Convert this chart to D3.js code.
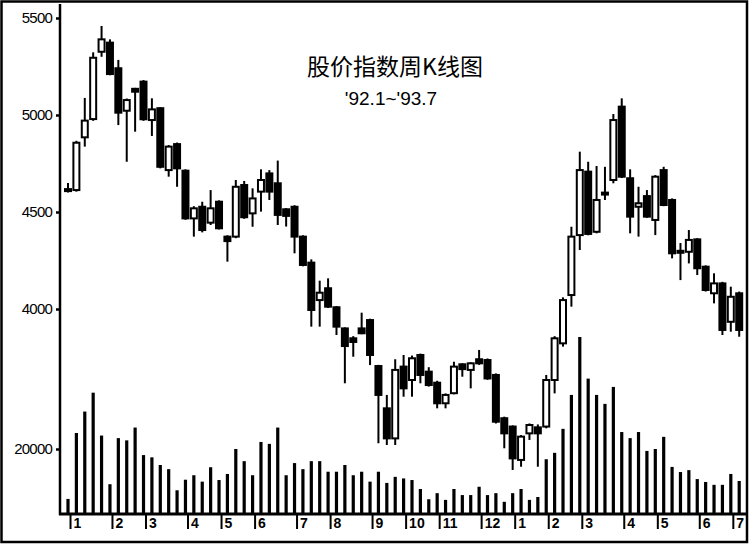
<!DOCTYPE html>
<html><head><meta charset="utf-8">
<script src="https://cdn.jsdelivr.net/npm/d3@7"></script>
<style>body{margin:0;background:#fff}svg{display:block}</style>
</head><body><svg width="749" height="544"></svg>
<script>
// Weekly index K-line, '92.1 ~ '93.7 (81 weeks)
const opens  = [4610,4613,4885,4979,5326,5373,5241,5022,5135,5172,4974,5035,4716,4850,4713,4467,4527,4445,4553,4373,
                4373,4639,4493,4605,4699,4648,4514,4527,4373,4239,4046,4107,4009,3900,3849,3900,3943,3706,3488,3333,
                3703,3634,3763,3677,3620,3514,3566,3715,3686,3741,3737,3660,3437,3394,3222,3359,3390,3394,3634,3823,
                4072,4381,4708,4398,4590,4665,5043,4674,4527,4582,4459,4716,4562,4290,4295,4359,4218,4081,4132,3934,4081];
const highs  = [4650,4867,5088,5323,5459,5390,5284,5085,5140,5180,5086,5040,4845,4858,4720,4530,4553,4613,4560,4380,
                4665,4660,4622,4720,4716,4765,4520,4535,4380,4256,4146,4158,4015,3905,3860,3981,3950,3712,3557,3741,
                3763,3760,3770,3700,3630,3565,3728,3720,3725,3789,3745,3668,3445,3400,3350,3410,3405,3660,3860,4060,
                4424,4811,4759,4737,4733,5005,5086,4720,4630,4613,4690,4733,4570,4340,4407,4365,4225,4184,4140,4115,4090];
const lows   = [4600,4605,4837,4970,5300,5205,4948,4759,4914,4970,4892,4725,4682,4630,4460,4373,4395,4433,4410,4244,
                4365,4465,4424,4502,4562,4433,4425,4287,4220,3909,3909,4005,3866,3617,3754,3870,3711,3308,3299,3299,
                3548,3548,3617,3600,3488,3488,3560,3651,3591,3712,3635,3410,3282,3170,3187,3325,3187,3385,3565,3806,
                4012,4304,4380,4390,4562,4648,4675,4390,4373,4470,4381,4530,4261,4149,4235,4175,4090,4029,3866,3883,3857];
const closes = [4618,4857,4971,5295,5390,5211,5012,5077,5120,4978,5029,4733,4837,4725,4467,4519,4407,4519,4416,4350,
                4630,4473,4570,4665,4605,4485,4480,4373,4227,3995,4084,4012,3909,3809,3830,3875,3763,3557,3333,3686,
                3591,3746,3660,3608,3514,3557,3703,3690,3720,3720,3642,3419,3359,3230,3342,3402,3359,3634,3849,4046,
                4373,4716,4387,4562,4600,4974,4682,4476,4545,4476,4682,4536,4287,4300,4356,4210,4098,4132,3892,4063,3892];
const volumes = [4400,25000,31700,37600,24200,9000,23400,22700,26700,18100,17400,15000,13700,7100,10400,11800,9800,14300,10300,12200,
                 20000,16200,11800,22200,21600,26700,11800,15600,13700,16200,16200,12900,12900,15000,11800,12900,9800,12900,9400,11300,
                 10800,10300,7500,4300,6200,4100,7500,5600,5600,8200,5600,6200,3500,6200,7500,4100,5000,16800,18800,26300,
                 36900,55000,42000,36900,34100,39400,25300,23400,25300,19400,20000,23800,14400,12800,13400,10600,9700,8800,8800,12200,10000];
const priceTicks = [5500,5000,4500,4000];
const volumeTicks = [20000];
const monthStarts = [0,5,9,14,18,22,27,31,36,40,44,49,53,57,61,66,70,75,79];
const monthLabels = ["1","2","3","4","5","6","7","8","9","10","11","12","1","2","3","4","5","6","7"];
const titleText = "股价指数周K线图";
const subtitleText = "'92.1~'93.7";

const svg = d3.select("svg");
const idx = d3.range(opens.length);
const x = d3.scaleLinear().domain([0, 80]).range([68, 739.2]);
const y = d3.scaleLinear().domain([4000, 5500]).range([309, 18]);
const yv = d3.scaleLinear().domain([0, 20000]).range([513, 449]);
const step = x(1) - x(0);

// frame
svg.append("rect").attr("x",1.5).attr("y",1.5).attr("width",745.5).attr("height",540.5)
  .attr("fill","none").attr("stroke","#000").attr("stroke-width",2.5);

// volume bars
svg.append("g").selectAll("rect").data(idx).join("rect")
  .attr("x", i => x(i) - 1.6).attr("width", 3.2)
  .attr("y", i => yv(volumes[i])).attr("height", i => yv(0) - yv(volumes[i]))
  .attr("fill", "#000");

// candles
const cg = svg.append("g");
cg.selectAll("line").data(idx).join("line")
  .attr("x1", i => x(i)).attr("x2", i => x(i))
  .attr("y1", i => y(highs[i])).attr("y2", i => y(lows[i]))
  .attr("stroke", "#000").attr("stroke-width", 2);
cg.selectAll("rect").data(idx).join("rect")
  .attr("x", i => x(i) - 3).attr("width", 6)
  .attr("y", i => y(Math.max(opens[i], closes[i])))
  .attr("height", i => Math.max(2, Math.abs(y(opens[i]) - y(closes[i]))))
  .attr("fill", i => closes[i] >= opens[i] ? "#fff" : "#000")
  .attr("stroke", "#000").attr("stroke-width", 2);

// axes
const axisFont = "'Liberation Sans', Arial, sans-serif";
const ya = svg.append("g").attr("transform","translate(60,0)")
  .call(d3.axisLeft(y).tickValues(priceTicks).tickSize(4).tickPadding(4).tickFormat(d3.format("d")));
const va = svg.append("g").attr("transform","translate(60,0)")
  .call(d3.axisLeft(yv).tickValues(volumeTicks).tickSize(4).tickPadding(4).tickFormat(d3.format("d")));
[ya, va].forEach(g => {
  g.select(".domain").remove();
  g.selectAll(".tick line").attr("stroke","#000").attr("stroke-width",2.5);
  g.selectAll(".tick text").attr("font-family", axisFont).attr("font-size", 15)
    .attr("letter-spacing", -0.8).attr("fill","#000");
});
svg.append("line").attr("x1",60).attr("x2",60).attr("y1",4).attr("y2",515)
  .attr("stroke","#000").attr("stroke-width",2.5);
svg.append("line").attr("x1",59).attr("x2",747).attr("y1",514).attr("y2",514)
  .attr("stroke","#000").attr("stroke-width",3);

// month ticks
const mg = svg.append("g").selectAll("g").data(monthStarts).join("g")
  .attr("transform", d => `translate(${x(d) + step * 0.3},0)`);
mg.append("line").attr("y1",514).attr("y2",529).attr("stroke","#000").attr("stroke-width",2);
mg.append("text").text((d,i) => monthLabels[i]).attr("x",3).attr("y",528)
  .attr("font-family", axisFont).attr("font-size",14).attr("font-weight","bold").attr("fill","#000");

// titles
svg.append("text").text(titleText).attr("x",395).attr("y",75).attr("text-anchor","middle")
  .attr("font-family","'Noto Sans CJK SC', sans-serif").attr("font-size",23).attr("fill","#000");
svg.append("text").text(subtitleText).attr("x",391).attr("y",105).attr("text-anchor","middle")
  .attr("font-family", axisFont).attr("font-size",19).attr("fill","#000");
</script></body></html>
